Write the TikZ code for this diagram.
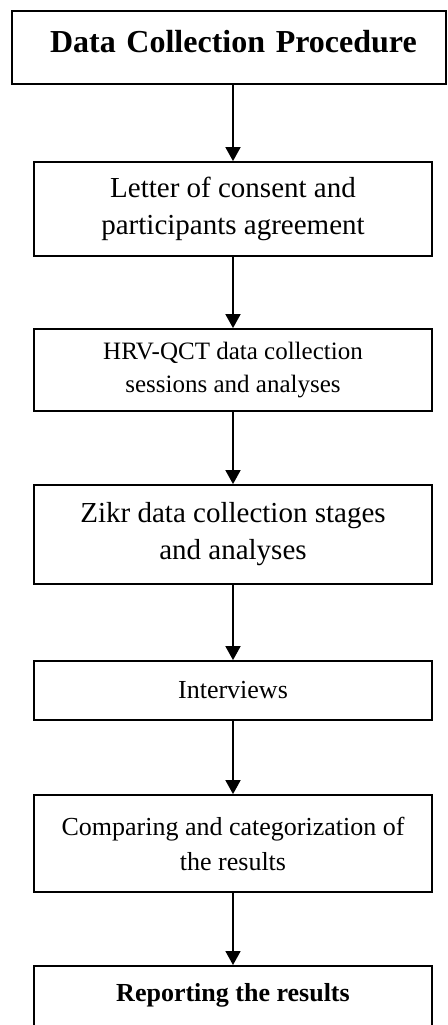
\documentclass[tikz,border=0pt]{standalone}
\usepackage{fontspec}
\setmainfont{Liberation Serif}
\usetikzlibrary{arrows.meta}
\begin{document}
\begin{tikzpicture}[x=1pt,y=1pt,
  stepbox/.style={draw, line width=1.8pt, minimum width=398pt, inner sep=0pt, align=center},
  arr/.style={line width=1.8pt, -{Triangle[width=15pt,length=14pt]}},
  bigtext/.style={font=\fontsize{29}{37}\selectfont},
  midtext/.style={font=\fontsize{26}{35}\selectfont}]
\useasboundingbox (0,0) rectangle (447,-1025);
\clip (0,0) rectangle (447,-1025);
\node[draw, line width=1.8pt, minimum width=434pt, text width=434pt, align=center,
      inner sep=0pt, text height=42pt, text depth=31pt,
      font=\fontsize{32}{38}\selectfont\bfseries, anchor=north west] (title) at (11,-10)
      {\hspace*{9pt}Data Collection Procedure};
\node[stepbox, bigtext, minimum height=94pt] (b2) at (233,-209)
      {Letter of consent and\\participants agreement};
\node[stepbox, midtext, minimum height=82pt, font=\fontsize{25}{33}\selectfont] (b3) at (233,-370)
      {HRV-QCT data collection\\sessions and analyses};
\node[stepbox, bigtext, minimum height=99pt] (b4) at (233,-534.5)
      {Zikr data collection stages\\and analyses};
\node[stepbox, midtext, minimum height=59pt] (b5) at (233,-690.5)
      {Interviews};
\node[stepbox, midtext, minimum height=97pt] (b6) at (233,-843.5)
      {Comparing and categorization of\\the results};
\node[stepbox, text height=36pt, text depth=44pt,
      font=\fontsize{26}{30}\selectfont\bfseries, anchor=north] (b7) at (233,-965)
      {Reporting the results};
\draw[arr] (title.south -| b2.north) -- (b2.north);
\draw[arr] (b2.south) -- (b3.north);
\draw[arr] (b3.south) -- (b4.north);
\draw[arr] (b4.south) -- (b5.north);
\draw[arr] (b5.south) -- (b6.north);
\draw[arr] (b6.south) -- (b7.north);
\end{tikzpicture}
\end{document}
